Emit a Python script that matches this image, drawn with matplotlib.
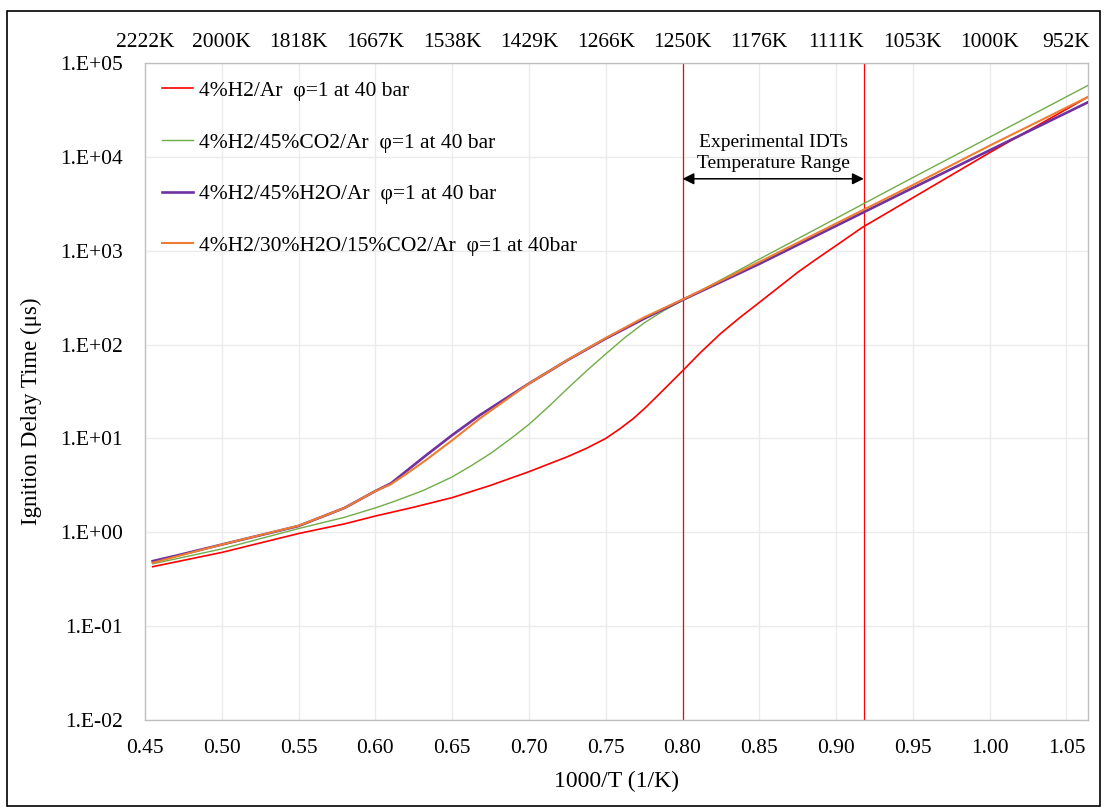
import matplotlib
matplotlib.use("Agg")
import matplotlib.pyplot as plt
from matplotlib.patches import Rectangle

plt.rcParams['font.family'] = ['Liberation Serif', 'DejaVu Serif']

# ---------------- data ----------------
labels = [
    "4%H2/Ar  φ=1 at 40 bar",
    "4%H2/45%CO2/Ar  φ=1 at 40 bar",
    "4%H2/45%H2O/Ar  φ=1 at 40 bar",
    "4%H2/30%H2O/15%CO2/Ar  φ=1 at 40bar",
]

x_red = [0.455, 0.50, 0.55, 0.58, 0.60, 0.625, 0.65, 0.675, 0.70, 0.725, 0.7375,
         0.75, 0.759, 0.768, 0.776, 0.784, 0.792, 0.80, 0.812, 0.825, 0.8375,
         0.85, 0.8625, 0.875, 0.8875, 0.90, 0.917, 0.95, 1.00, 1.065]
y_red = [0.43, 0.61, 0.97, 1.23, 1.49, 1.85, 2.34, 3.16, 4.42, 6.38, 7.85,
         10.0, 12.6, 16.3, 21.4, 28.8, 38.9, 52.5, 83.2, 132, 195,
         281, 407, 589, 822, 1135, 1770, 3670, 11100, 44400]

x_green = [0.455, 0.50, 0.55, 0.58, 0.60, 0.6125, 0.631, 0.65, 0.6625, 0.675,
           0.6875, 0.70, 0.7125, 0.725, 0.7375, 0.75, 0.7625, 0.775, 0.7875,
           0.80, 0.85, 0.90, 0.95, 1.00, 1.065]
y_green = [0.461, 0.665, 1.096, 1.445, 1.82, 2.14, 2.78, 3.89, 5.13, 6.92,
           9.77, 14.1, 21.6, 33.9, 52.5, 79.4, 119, 170, 229,
           295, 813, 2213, 6026, 16218, 58884]

x_purple = [0.455, 0.47, 0.50, 0.55, 0.58, 0.60, 0.61, 0.62, 0.633, 0.65, 0.668,
            0.70, 0.725, 0.75, 0.775, 0.80, 0.85, 0.90, 0.95, 1.00, 1.065]
y_purple = [0.493, 0.562, 0.74, 1.167, 1.82, 2.75, 3.31, 4.47, 6.61, 10.84, 17.7,
            38.5, 68.1, 115.9, 189, 299, 724, 1841, 4677, 11749, 38905]

x_orange = [0.455, 0.47, 0.50, 0.55, 0.58, 0.60, 0.61, 0.62, 0.633, 0.65, 0.668,
            0.70, 0.725, 0.75, 0.775, 0.80, 0.85, 0.90, 0.95, 1.00, 1.065]
y_orange = [0.473, 0.55, 0.74, 1.175, 1.82, 2.75, 3.24, 4.17, 5.89, 9.55, 16.3,
            38.5, 68.4, 117.5, 195, 302, 759, 1950, 5012, 13183, 44360]

x_ticks = [0.45, 0.50, 0.55, 0.60, 0.65, 0.70, 0.75, 0.80, 0.85, 0.90, 0.95, 1.00, 1.05]
top_labels = ["2222K", "2000K", "1818K", "1667K", "1538K", "1429K", "1266K",
              "1250K", "1176K", "1111K", "1053K", "1000K", "952K"]
y_ticks = [1e-2, 1e-1, 1e0, 1e1, 1e2, 1e3, 1e4, 1e5]
y_ticklabels = ["1.E-02", "1.E-01", "1.E+00", "1.E+01", "1.E+02", "1.E+03", "1.E+04", "1.E+05"]

range_lines = [0.80, 0.918]
annot_text = "Experimental IDTs\nTemperature Range"

# ---------------- figure ----------------
W, H = 1104, 810
fig = plt.figure(figsize=(W / 100, H / 100), dpi=100)
ax = fig.add_axes([145 / W, 1 - 720 / H, (1088 - 145) / W, (720 - 63) / H])

ax.set_yscale('log')
ax.set_xlim(0.45, 1.064)
ax.set_ylim(1e-2, 1e5)

ax.grid(True, which='major', color='#ebebeb', lw=1.0, zorder=0)
ax.minorticks_off()
ax.set_xticks(x_ticks)
ax.set_xticklabels([f"{t:.2f}" for t in x_ticks])
ax.set_yticks(y_ticks)
ax.set_yticklabels(y_ticklabels)
ax.tick_params(axis='both', length=0, labelsize=15.5)
ax.tick_params(axis='x', pad=14)
ax.tick_params(axis='y', pad=16)
for s in ax.spines.values():
    s.set_color('#bfbfbf')
    s.set_linewidth(1.0)

for xv in range_lines:
    ax.axvline(xv, color='#ff0000', lw=0.9, zorder=2)

ax.plot(x_red, y_red, color='#ff0000', lw=1.2, label=labels[0], zorder=3)
ax.plot(x_green, y_green, color='#70ad47', lw=1.0, label=labels[1], zorder=3)
ax.plot(x_purple, y_purple, color='#7030a0', lw=1.9, label=labels[2], zorder=3)
ax.plot(x_orange, y_orange, color='#ed7d31', lw=1.5, label=labels[3], zorder=3)

ax.set_xlabel("1000/T (1/K)", fontsize=17)
ax.xaxis.set_label_coords(0.5, -0.078)
ax.set_ylabel("Ignition Delay Time (μs)", fontsize=16.5)
ax.yaxis.set_label_coords(-0.109, 0.47)

leg = ax.legend(loc='upper left', bbox_to_anchor=(0.018, 0.973), frameon=False,
                fontsize=15.5, handlelength=1.45, handletextpad=0.25,
                labelspacing=1.47, borderpad=0, borderaxespad=0)

# annotation arrow + text
ax.annotate("", xy=(range_lines[0], 5840), xytext=(range_lines[1], 5840),
            arrowprops=dict(arrowstyle='<|-|>', color='black', lw=1.1,
                            mutation_scale=17, shrinkA=0, shrinkB=0), zorder=4)
ax.text(0.859, 11000, annot_text, ha='center', va='center', fontsize=14,
        linespacing=1.35, zorder=4)

# top temperature axis
ax2 = ax.twiny()
ax2.set_xlim(ax.get_xlim())
ax2.set_xticks(x_ticks)
ax2.set_xticklabels(top_labels)
ax2.tick_params(axis='x', length=0, labelsize=15.5, pad=8)
for s in ax2.spines.values():
    s.set_visible(False)

# outer border
fig.patches.append(Rectangle((7 / W, 1 - 806 / H), (1100 - 7) / W, (806 - 11) / H,
                             transform=fig.transFigure, fill=False,
                             edgecolor='black', lw=1.2))

fig.savefig("out.png", dpi=100)
